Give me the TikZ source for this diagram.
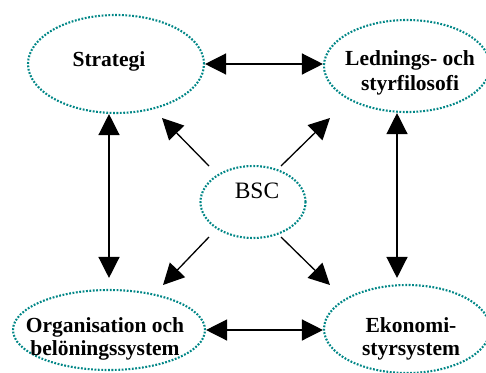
\documentclass[tikz,border=0pt]{standalone}
\usepackage{fontspec}
\setmainfont{Liberation Serif}
\usetikzlibrary{arrows.meta,shapes.geometric}
\definecolor{dotteal}{RGB}{0,134,134}
\begin{document}
\begin{tikzpicture}[x=1pt,y=-1pt,
  oval/.style={draw=dotteal, ellipse, line width=2.1pt,
    dash pattern=on 1.8pt off 1.6pt, inner sep=0pt},
  lbl/.style={anchor=base, inner sep=0pt,
    font=\fontsize{21.5}{24}\selectfont\bfseries},
  link/.style={line width=1.3pt, {Triangle[length=21pt,width=21pt]}-{Triangle[length=21pt,width=21pt]}},
  ray/.style={line width=1.3pt, -{Triangle[length=21pt,width=21pt]}}]
\useasboundingbox (0,0) rectangle (486,372);

% the five ovals
\node[oval, minimum width=176pt, minimum height=98pt] (strat) at (116,64) {};
\node[oval, minimum width=166pt, minimum height=92pt] (led) at (407,66) {};
\node[oval, minimum width=192pt, minimum height=80pt] (org) at (109,330) {};
\node[oval, minimum width=166pt, minimum height=88pt] (eko) at (407,329) {};
\node[oval, minimum width=105pt, minimum height=72pt] (bsc) at (253,202) {};

% labels
\node[lbl] (tstrat) at (109,66) {Strategi};
\node[lbl] (tled1) at (410,65) {Lednings- och};
\node[lbl] (tled2) at (410,90) {styrfilosofi};
\node[lbl] (torg1) at (105,332) {Organisation och};
\node[lbl] (torg2) at (105,355) {belöningssystem};
\node[lbl] (teko1) at (411,332) {Ekonomi-};
\node[lbl] (teko2) at (411,355) {styrsystem};
\node[anchor=base, inner sep=0pt, font=\fontsize{23.5}{26}\selectfont] (tbsc) at (257,198) {BSC};

% links between the outer ovals
\draw[link] (strat.east) -- (strat.east -| led.west);
\draw[link] (org.east) -- (org.east -| eko.west);
\draw[link] (strat.south -| org.north) -- ([yshift=11pt]org.north);
\draw[link] ([xshift=-10pt]led.south) -- ([xshift=-10pt,yshift=6pt]eko.north);

% rays from BSC
\path (bsc.center) ++(-44,-36) coordinate (s1) ++(-47,-48) coordinate (e1);
\path (bsc.center) ++(28,-36) coordinate (s2) ++(49,-48) coordinate (e2);
\path (bsc.center) ++(-44,35) coordinate (s3) ++(-46,48) coordinate (e3);
\path (bsc.center) ++(28,35) coordinate (s4) ++(49,48) coordinate (e4);
\draw[ray] (s1) -- (e1);
\draw[ray] (s2) -- (e2);
\draw[ray] (s3) -- (e3);
\draw[ray] (s4) -- (e4);
\end{tikzpicture}
\end{document}
